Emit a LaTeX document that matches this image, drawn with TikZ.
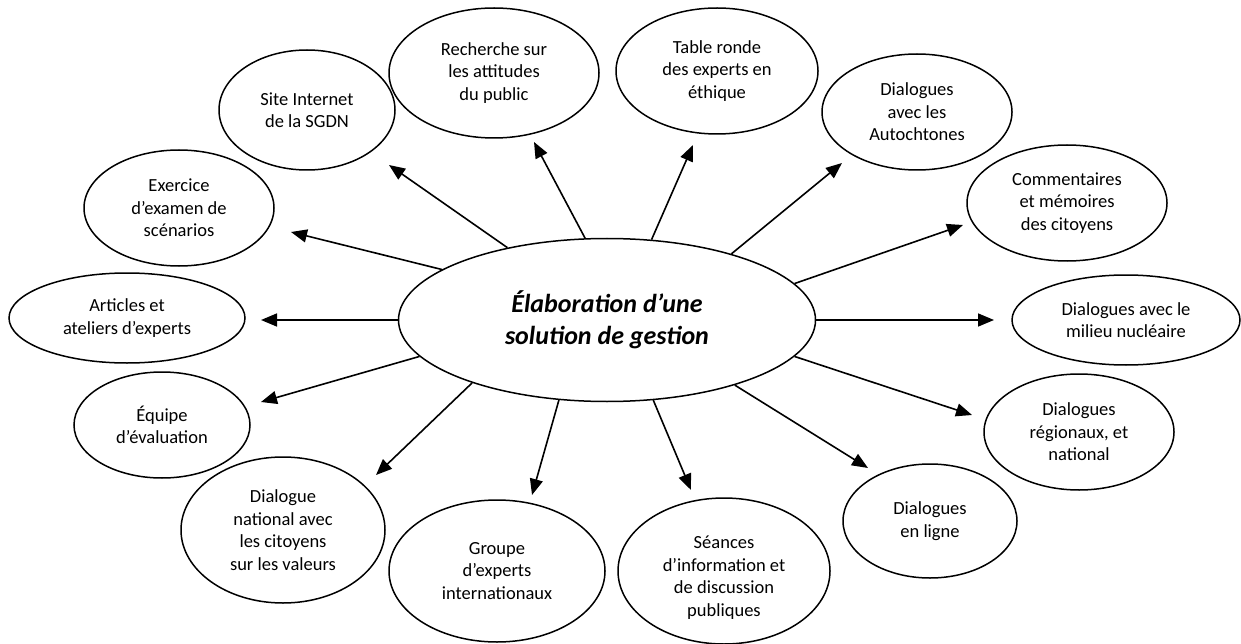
\documentclass[tikz,border=0pt]{standalone}
\usepackage{fontspec}
\setmainfont{Carlito}
\usetikzlibrary{shapes.geometric,arrows.meta}
\begin{document}
\begin{tikzpicture}[x=1pt,y=-1pt,
  bub/.style={ellipse, draw, line width=1.5pt, inner sep=0pt, align=center,
    font=\fontsize{18.5}{22.5}\selectfont},
  arr/.style={-{Triangle[length=16pt,width=13pt]}, line width=1.6pt}]
\fill[white] (0,0) rectangle (1241,644);
\useasboundingbox (0,0) rectangle (1241,644);

\node[bub, minimum width=417pt, minimum height=163pt,
  font=\bfseries\itshape\fontsize{26}{32}\selectfont] (c) at (607,320)
  {Élaboration d’une\\solution de gestion};

\node[bub, minimum width=210pt, minimum height=130pt] (rech) at (494,73) {Recherche sur\\les attitudes\\du public};
\node[bub, minimum width=176pt, minimum height=120pt] (site) at (307,110) {Site Internet\\de la SGDN};
\node[bub, minimum width=190pt, minimum height=116pt] (exer) at (179,208) {Exercice\\d’examen de\\scénarios};
\node[bub, minimum width=236pt, minimum height=90pt] (art) at (127,318) {Articles et\\ateliers d’experts};
\node[bub, minimum width=176pt, minimum height=106pt] (equ) at (162,425) {Équipe\\d’évaluation};
\node[bub, minimum width=204pt, minimum height=146pt] (dnat) at (283,530) {Dialogue\\national avec\\les citoyens\\sur les valeurs};
\node[bub, minimum width=216pt, minimum height=142pt] (grp) at (497,571) {Groupe\\d’experts\\internationaux};
\node[bub, minimum width=212pt, minimum height=146pt, text depth=0pt] (sea) at (724,571) {\raisebox{27pt}{\begin{tabular}{@{}c@{}}Séances\\d’information et\\de discussion\\publiques\end{tabular}}};
\node[bub, minimum width=174pt, minimum height=114pt] (lig) at (930,521) {Dialogues\\en ligne};
\node[bub, minimum width=190pt, minimum height=116pt] (reg) at (1079,432) {Dialogues\\régionaux, et\\national};
\node[bub, minimum width=228pt, minimum height=90pt] (mil) at (1126,320) {Dialogues avec le\\milieu nucléaire};
\node[bub, minimum width=200pt, minimum height=116pt] (com) at (1067,203) {Commentaires\\et mémoires\\des citoyens};
\node[bub, minimum width=190pt, minimum height=116pt] (aut) at (917,112) {Dialogues\\avec les\\Autochtones};
\node[bub, minimum width=202pt, minimum height=126pt] (tab) at (717,71) {Table ronde\\des experts en\\éthique};

\coordinate (tsite) at (389,165);
\coordinate (trech) at (534,142);
\coordinate (ttab) at (693,145);
\coordinate (taut) at (842,163);
\coordinate (tcom) at (963,225);
\coordinate (tmil) at (994,320);
\coordinate (treg) at (972,415);
\coordinate (tlig) at (868,468);
\coordinate (tsea) at (691,490);
\coordinate (tgrp) at (532,495);
\coordinate (tdnat) at (376,475);
\coordinate (tequ) at (261,402);
\coordinate (tart) at (261,320);
\coordinate (texer) at (291,232);

\draw[arr] (c.144) -- (tsite);
\draw[arr] (c.105) -- (trech);
\draw[arr] (c.61) -- (ttab);
\draw[arr] (c.28) -- (taut);
\draw[arr] (c.11.6) -- (tcom);
\draw[arr] (c.0) -- (tmil);
\draw[arr] (c.-11.2) -- (treg);
\draw[arr] (c.-27.3) -- (tlig);
\draw[arr] (c.-60.6) -- (tsea);
\draw[arr] (c.-121.5) -- (tgrp);
\draw[arr] (c.205.7) -- (tdnat);
\draw[arr] (c.191.6) -- (tequ);
\draw[arr] (c.180) -- (tart);
\draw[arr] (c.163.8) -- (texer);
\end{tikzpicture}
\end{document}
